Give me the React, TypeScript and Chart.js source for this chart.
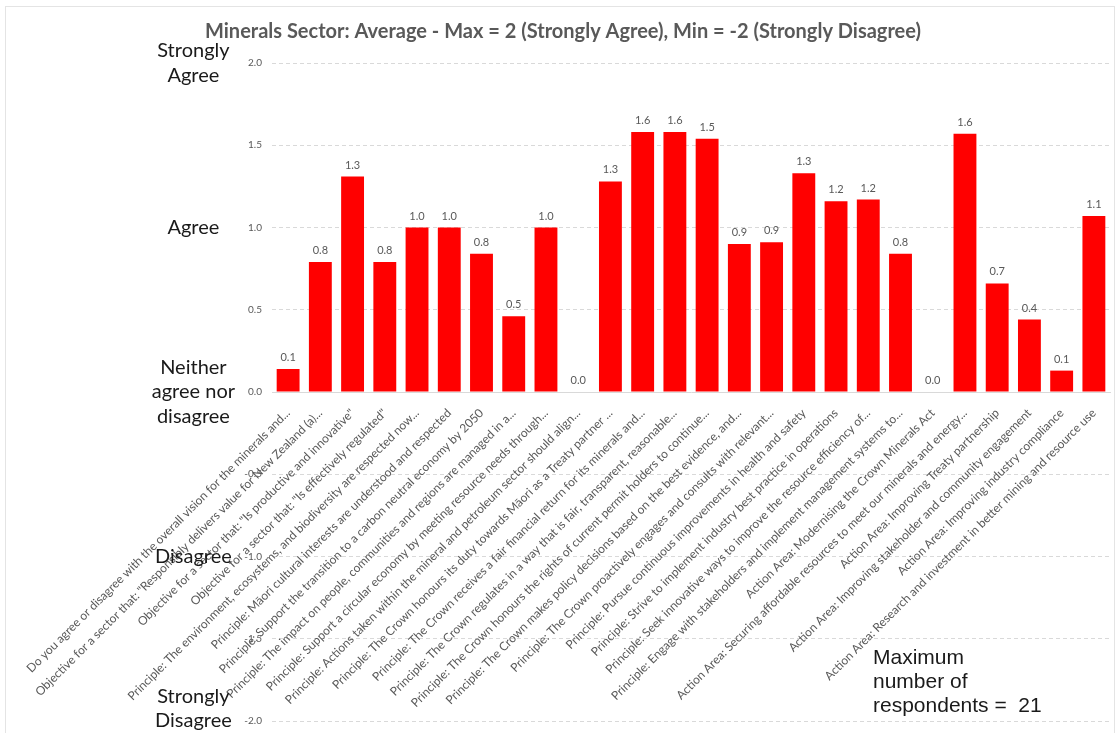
import { useEffect, useRef } from 'react';
import { Chart, registerables } from 'chart.js';

Chart.register(...registerables);

const titleText =
  'Minerals Sector: Average - Max = 2 (Strongly Agree), Min = -2 (Strongly Disagree)';

const categories = [
  'Do you agree or disagree with the overall vision for the minerals and...',
  'Objective for a sector that: "Responsibly delivers value for New Zealand (a)...',
  'Objective for a sector that: "Is productive and innovative"',
  'Objective for a sector that: "Is effectively regulated"',
  'Principle: The environment, ecosystems, and biodiversity are respected now...',
  'Principle: Māori cultural interests are understood and respected',
  'Principle: Support the transition to a carbon neutral economy by 2050',
  'Principle: The impact on people, communities and regions are managed in a...',
  'Principle: Support a circular economy by meeting resource needs through...',
  'Principle: Actions taken within the mineral and petroleum sector should align...',
  'Principle: The Crown honours its duty towards Māori as a Treaty partner ...',
  'Principle: The Crown receives a fair financial return for its minerals and...',
  'Principle: The Crown regulates in a way that is fair, transparent, reasonable...',
  'Principle: The Crown honours the rights of current permit holders to continue...',
  'Principle: The Crown makes policy decisions based on the best evidence, and...',
  'Principle: The Crown proactively engages and consults with relevant...',
  'Principle: Pursue continuous improvements in health and safety',
  'Principle: Strive to implement industry best practice in operations',
  'Principle: Seek innovative ways to improve the resource efficiency of...',
  'Principle: Engage with stakeholders and implement management systems to...',
  'Action Area: Modernising the Crown Minerals Act',
  'Action Area: Securing affordable resources to meet our minerals and energy...',
  'Action Area: Improving Treaty partnership',
  'Action Area: Improving stakeholder and community engagement',
  'Action Area: Improving industry compliance',
  'Action Area: Research and investment in better mining and resource use',
];

const averages = [
  0.14, 0.79, 1.31, 0.79, 1.0, 1.0, 0.84, 0.46, 1.0, 0.0,
  1.28, 1.58, 1.58, 1.54, 0.9, 0.91, 1.33, 1.16, 1.17, 0.84,
  0.0, 1.57, 0.66, 0.44, 0.13, 1.07,
];

const levelValues = [2, 1, 0, -1, -2];
const levelLabels: (string | string[])[] = [
  ['Strongly', 'Agree'],
  'Agree',
  ['Neither', 'agree nor', 'disagree'],
  'Disagree',
  ['Strongly', 'Disagree', ''],
];

const noteLines = ['Maximum', 'number of', 'respondents =  21'];

const valueLabelsPlugin = {
  id: 'valueLabels',
  afterDatasetsDraw(chart: any) {
    const ctx = chart.ctx;
    const meta = chart.getDatasetMeta(0);
    const data = chart.data.datasets[0].data as number[];
    ctx.save();
    ctx.font = '11px Lato';
    ctx.fillStyle = '#595959';
    ctx.textAlign = 'center';
    ctx.textBaseline = 'bottom';
    meta.data.forEach((bar: any, i: number) => {
      ctx.fillText(Number(data[i]).toFixed(1), bar.x, bar.y - 6);
    });
    ctx.restore();
  },
};

const notePlugin = {
  id: 'respondentsNote',
  afterDraw(chart: any) {
    const ctx = chart.ctx;
    ctx.save();
    ctx.font = '21px "Liberation Sans"';
    ctx.fillStyle = '#1a1a1a';
    ctx.textAlign = 'left';
    ctx.textBaseline = 'middle';
    noteLines.forEach((line, i) => {
      ctx.fillText(line, 867, 651 + i * 24);
    });
    ctx.restore();
  },
};

export default function App() {
  const ref = useRef<HTMLCanvasElement>(null);

  useEffect(() => {
    if (!ref.current) return;
    const chart = new Chart(ref.current, {
      type: 'bar',
      data: {
        labels: categories,
        datasets: [
          {
            data: averages,
            backgroundColor: '#ff0000',
            borderWidth: 0,
            barPercentage: 0.71,
            categoryPercentage: 1,
          },
        ],
      },
      options: {
        responsive: false,
        animation: false,
        devicePixelRatio: 1,
        layout: { padding: { left: 10, right: 4, top: 0, bottom: 12 } },
        plugins: {
          legend: { display: false },
          tooltip: { enabled: false },
          title: {
            display: true,
            text: titleText,
            color: '#595959',
            font: { family: 'Lato', size: 20, weight: 'bold' },
            padding: { top: 13, bottom: 19 },
          },
        },
        scales: {
          x: {
            type: 'category',
            position: { y: 0 } as any,
            grid: { display: false },
            border: { display: true, color: '#d9d9d9', width: 1 },
            ticks: {
              autoSkip: false,
              minRotation: 45,
              maxRotation: 45,
              padding: 6,
              color: '#595959',
              font: { family: 'Lato', size: 12 },
            },
            afterFit: (s: any) => {
              s.paddingLeft = 0;
              s.paddingRight = 0;
              s.paddingTop = 0;
              s.paddingBottom = 0;
            },
          },
          y: {
            type: 'linear',
            position: 'left',
            weight: 0,
            min: -2,
            max: 2,
            ticks: {
              stepSize: 0.5,
              padding: 10,
              color: '#595959',
              font: { family: 'Lato', size: 10 },
              callback: (v: any) => Number(v).toFixed(1),
            },
            grid: { color: '#d9d9d9', drawTicks: false, lineWidth: 1 },
            border: { display: false, dash: [4, 3] },
            afterFit: (s: any) => {
              s.width = 34;
              s.paddingTop = 0;
              s.paddingBottom = 0;
            },
          },
          y2: {
            type: 'linear',
            position: 'left',
            weight: 1,
            min: -2,
            max: 2,
            afterBuildTicks: (s: any) => {
              s.ticks = levelValues.map((value) => ({ value }));
            },
            ticks: {
              padding: 3,
              crossAlign: 'center',
              color: '#1a1a1a',
              font: { family: 'Lato', size: 20, lineHeight: 1.22 },
              callback: (v: any) => {
                const idx = levelValues.indexOf(Number(v));
                return idx >= 0 ? levelLabels[idx] : '';
              },
            },
            grid: { display: false, drawTicks: false },
            border: { display: false },
            afterFit: (s: any) => {
              s.width = 222;
              s.paddingTop = 0;
              s.paddingBottom = 0;
            },
          },
        },
      },
      plugins: [valueLabelsPlugin, notePlugin],
    } as any);
    return () => chart.destroy();
  }, []);

  return (
    <div
      style={{
        position: 'absolute',
        left: 5,
        top: 6,
        width: 1110,
        height: 727,
        border: '1px solid #e4e4e4',
        borderBottom: 'none',
        boxSizing: 'border-box',
        background: '#fff',
      }}
    >
      <canvas
        ref={ref}
        width={1108}
        height={726}
        style={{ display: 'block', width: 1108, height: 726 }}
      />
    </div>
  );
}
